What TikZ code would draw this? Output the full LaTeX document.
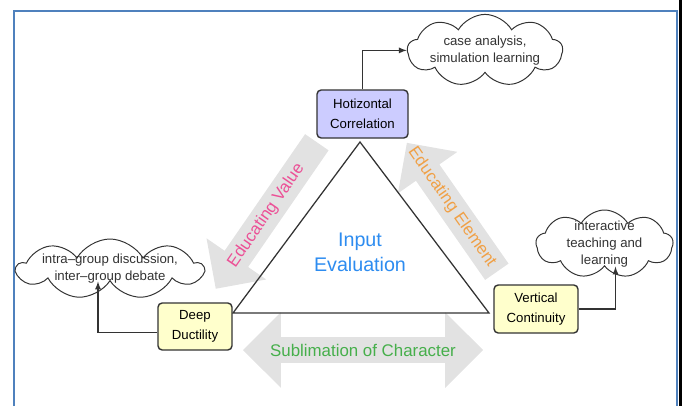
\documentclass[tikz,border=0pt]{standalone}
\usepackage{fontspec}
\setmainfont{Liberation Sans}
\usepackage{xcolor}
\usepackage{tikz}
\usetikzlibrary{shapes,arrows,positioning,calc}

\definecolor{framblue}{RGB}{79,129,189}
\definecolor{arrowgray}{RGB}{226,226,226}
\definecolor{lavender}{RGB}{204,204,255}
\definecolor{paleyellow}{RGB}{255,255,204}
\definecolor{boxline}{RGB}{51,51,51}
\definecolor{valpink}{RGB}{236,80,150}
\definecolor{eleorange}{RGB}{240,160,70}
\definecolor{subgreen}{RGB}{70,175,75}
\definecolor{inputblue}{RGB}{45,140,240}

\begin{document}
\begin{tikzpicture}[
        box/.style={rectangle, draw=boxline, line width=1pt, rounded corners=3pt, text centered, align=center, inner sep=2pt, font=\fontsize{9.4}{14}\selectfont},
        horiz/.style={box, fill=lavender, minimum width=2.275cm, minimum height=1.2cm},
        vert/.style={box, fill=paleyellow, minimum height=1.2cm},
        thought/.style={cloud, cloud puffs=9, cloud puff arc=120, cloud ignores aspect, draw=boxline, line width=0.7pt, fill=white, align=center, inner xsep=-0.8cm, inner ysep=-0.2cm, font=\fontsize{9.4}{12}\selectfont, text=boxline},
        fatarrow/.style={single arrow, fill=arrowgray, minimum width=0pt, inner sep=0pt, text height=0.7cm, text depth=0pt, single arrow head extend=0.55cm},
        link/.style={-latex, line width=0.9pt, draw=boxline},
        tag/.style={font=\fontsize{12}{14}\selectfont}
    ]
    \useasboundingbox (0,0) rectangle (17.05,10.15);

    % Page frame
    \draw[framblue, line width=1.4pt] (0.35,0) -- (0.35,9.875) -- (16.925,9.875) -- (16.925,0);
    \fill[black] (16.975,0) rectangle (17.05,10.15);

    % Big gray arrows
    \node[fatarrow, rotate=235.4, minimum height=4.45cm, anchor=tail] (valArrow) at (7.925,6.6) {};
    \node[fatarrow, rotate=124.9, minimum height=3.93cm, anchor=tail] (eleArrow) at (12.425,3.35) {};
    \node[double arrow, fill=arrowgray, minimum height=6cm, minimum width=0pt, inner sep=0pt, text height=0.625cm, text depth=0pt, double arrow head extend=0.625cm] (subArrow) at (9.075,1.4) {};

    % Triangle
    \coordinate (triTop) at (9.0,6.6);
    \coordinate (triLeft) at (5.825,2.325);
    \coordinate (triRight) at (12.225,2.325);
    \draw[line width=0.9pt, boxline] (triTop) -- (triLeft) -- (triRight) -- cycle;

    % Corner boxes
    \node[horiz] (hcorr) at (9.0625,7.3) {Hotizontal\\Correlation};
    \node[vert, minimum width=1.85cm, minimum height=1.175cm] (deep) at (4.875,1.9875) {Deep\\Ductility};
    \node[vert, minimum width=2.1cm] (vcont) at (13.4,2.425) {Vertical\\Continuity};

    % Clouds
    \node[thought, minimum width=3.875cm, minimum height=1.8cm] (caseCloud) at (12.125,8.89) {case analysis,\\simulation learning};
    \node[thought, minimum width=4.65cm, minimum height=1.5cm] (discCloud) at (2.75,3.425) {intra--group discussion,\\inter--group debate};
    \node[thought, minimum width=3.425cm, minimum height=1.7cm] (teachCloud) at (15.1125,4.05) {interactive\\teaching and\\learning};

    % Links to clouds
    \draw[link] (hcorr.north) |- (caseCloud.west);
    \draw[link] ([yshift=-0.15cm]deep.west) -| ([xshift=-0.3cm]discCloud.south);
    \draw[link] (vcont.east) -| ([xshift=0.275cm]teachCloud.south);

    % Texts
    \node[font=\fontsize{14}{17.8}\selectfont, text=inputblue, align=center] (input) at (9.0,3.85) {Input\\Evaluation};
    \node[tag, text=valpink, rotate=55.4] (valText) at ($(valArrow.tail)!0.5!(valArrow.tip)$) {Educating Value};
    \node[tag, text=eleorange, rotate=-55.1] (eleText) at ($(eleArrow.tail)!0.5!(eleArrow.tip)$) {Educating Element};
    \node[tag, text=subgreen] (subText) at (subArrow) {Sublimation of Character};

\end{tikzpicture}
\end{document}
